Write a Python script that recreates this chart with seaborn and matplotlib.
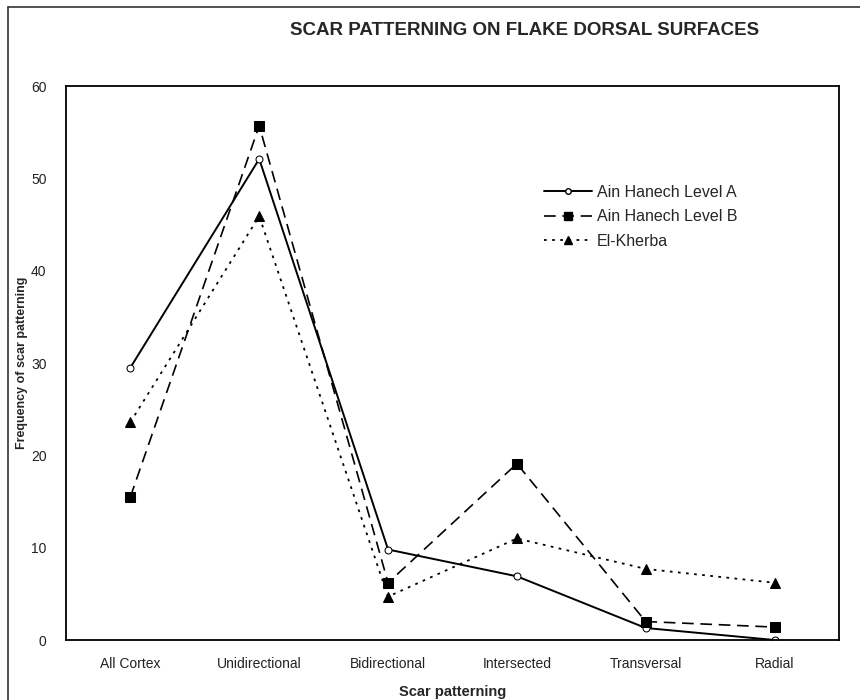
import numpy as np
import pandas as pd
import seaborn as sns
import matplotlib.pyplot as plt
from matplotlib.lines import Line2D

categories = ['All Cortex', 'Unidirectional', 'Bidirectional', 'Intersected', 'Transversal', 'Radial']
level_a = [29.5, 52.1, 9.8, 6.9, 1.3, 0.0]
level_b = [15.5, 55.7, 6.2, 19.1, 2.0, 1.4]
el_kherba = [23.6, 45.9, 4.7, 11.0, 7.7, 6.2]
series_names = ['Ain Hanech Level A', 'Ain Hanech Level B', 'El-Kherba']

sns.set_style('white')
plt.rcParams['font.family'] = ['Liberation Sans', 'DejaVu Sans']

pos = np.arange(len(categories))
df = pd.DataFrame({'pos': np.tile(pos, 3),
                   'value': level_a + level_b + el_kherba,
                   'site': np.repeat(series_names, len(categories))})

fig = plt.figure(figsize=(8.6, 7), dpi=100)
ax = fig.add_axes([0.0767, 0.0857, 0.8989, 0.7914])

styles = {
    'Ain Hanech Level A': dict(marker='o', ms=5, mfc='white', mec='black', mew=1.0, ls='-', lw=1.4),
    'Ain Hanech Level B': dict(marker='s', ms=7, mfc='black', mec='black', ls=(0, (7, 4)), lw=1.2),
    'El-Kherba': dict(marker='^', ms=6.5, mfc='black', mec='black', ls=(0, (1.5, 3)), lw=1.3),
}
for name in series_names:
    sub = df[df.site == name]
    st = styles[name]
    sns.lineplot(data=sub, x='pos', y='value', ax=ax, color='black', linestyle=st['ls'],
                 linewidth=st['lw'], marker=st['marker'], markersize=st['ms'],
                 markerfacecolor=st['mfc'], markeredgecolor=st['mec'], legend=False)

ax.set_xlim(-0.5, 5.5)
ax.set_ylim(0, 60)
ax.set_xticks(pos)
ax.set_xticklabels(categories, fontsize=10, color='#222222')
ax.set_yticks(range(0, 61, 10))
ax.tick_params(axis='y', labelsize=10, length=0, pad=14, colors='#222222')
ax.tick_params(axis='x', length=0, pad=12)
for sp in ax.spines.values():
    sp.set_color('black')
    sp.set_linewidth(1.3)

ax.set_xlabel('Scar patterning', fontsize=10.5, fontweight='bold', labelpad=10)
ax.set_ylabel('Frequency of scar patterning', fontsize=9, fontweight='bold', labelpad=2)
fig.text(0.61, 0.957, 'SCAR PATTERNING ON FLAKE DORSAL SURFACES', ha='center', va='center',
         fontsize=13.5, fontweight='bold')

handles = [Line2D([0], [0], color='black', linestyle=styles[n]['ls'], linewidth=styles[n]['lw'],
                  marker=styles[n]['marker'], markersize=styles[n]['ms'] - 1,
                  markerfacecolor=styles[n]['mfc'], markeredgecolor=styles[n]['mec'])
           for n in series_names]
ax.legend(handles, series_names, loc='upper left', bbox_to_anchor=(0.6, 0.848), frameon=False,
          fontsize=11.5, handlelength=3.0, handletextpad=0.3, labelspacing=0.6)

# outer frame (top and left edges)
fig.add_artist(Line2D([0.0093, 1.0], [0.99, 0.99], color='#333333', lw=1.2, transform=fig.transFigure))
fig.add_artist(Line2D([0.0093, 0.0093], [0.0, 0.99], color='#333333', lw=1.2, transform=fig.transFigure))

fig.savefig('out.png', dpi=100)
